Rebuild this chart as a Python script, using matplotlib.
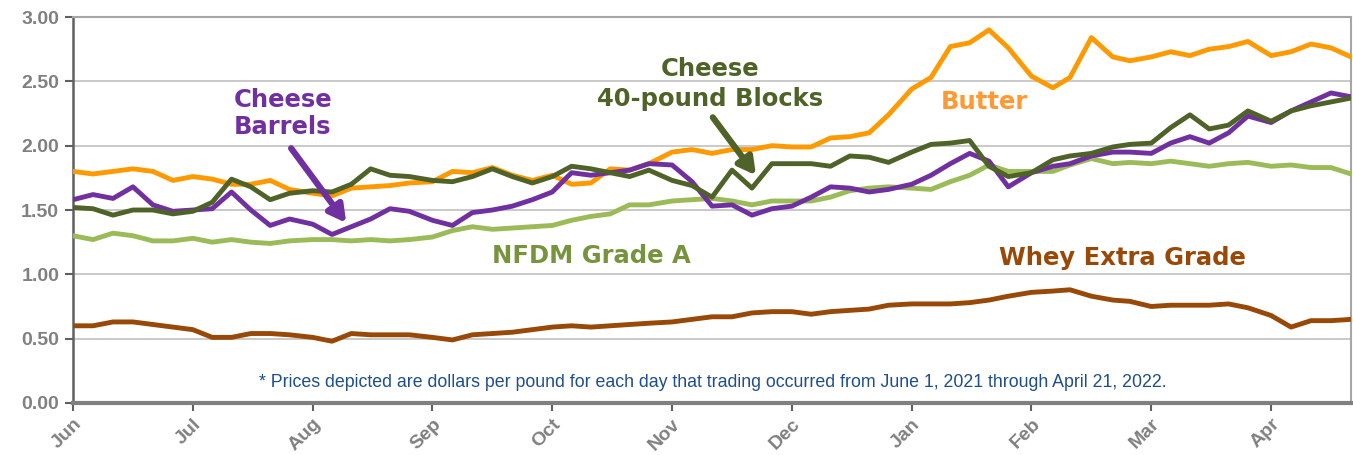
import calendar
import matplotlib
matplotlib.use("Agg")
import matplotlib.pyplot as plt
from matplotlib.ticker import MultipleLocator, FormatStrFormatter

# sampling dates (roughly every 5 days, June 1 2021 - April 21 2022)
dates = [
    "2021-06-01", "2021-06-06", "2021-06-11", "2021-06-16", "2021-06-21", "2021-06-26",
    "2021-07-01", "2021-07-06", "2021-07-11", "2021-07-16", "2021-07-21", "2021-07-26",
    "2021-08-01", "2021-08-06", "2021-08-11", "2021-08-16", "2021-08-21", "2021-08-26",
    "2021-09-01", "2021-09-06", "2021-09-11", "2021-09-16", "2021-09-21", "2021-09-26",
    "2021-10-01", "2021-10-06", "2021-10-11", "2021-10-16", "2021-10-21", "2021-10-26",
    "2021-11-01", "2021-11-06", "2021-11-11", "2021-11-16", "2021-11-21", "2021-11-26",
    "2021-12-01", "2021-12-06", "2021-12-11", "2021-12-16", "2021-12-21", "2021-12-26",
    "2022-01-01", "2022-01-06", "2022-01-11", "2022-01-16", "2022-01-21", "2022-01-26",
    "2022-02-01", "2022-02-06", "2022-02-10", "2022-02-15", "2022-02-20", "2022-02-24",
    "2022-03-01", "2022-03-06", "2022-03-11", "2022-03-16", "2022-03-21", "2022-03-26",
    "2022-04-01", "2022-04-06", "2022-04-11", "2022-04-16", "2022-04-21",
]

butter = [
    1.80, 1.78, 1.80, 1.82, 1.80, 1.73,
    1.76, 1.74, 1.70, 1.70, 1.73, 1.66,
    1.63, 1.61, 1.67, 1.68, 1.69, 1.71,
    1.72, 1.80, 1.79, 1.83, 1.77, 1.73,
    1.77, 1.70, 1.71, 1.82, 1.81, 1.86,
    1.95, 1.97, 1.94, 1.97, 1.97, 2.00,
    1.99, 1.99, 2.06, 2.07, 2.10, 2.24,
    2.44, 2.53, 2.77, 2.80, 2.90, 2.76,
    2.54, 2.45, 2.53, 2.84, 2.69, 2.66,
    2.69, 2.73, 2.70, 2.75, 2.77, 2.81,
    2.70, 2.73, 2.79, 2.76, 2.69,
]

blocks = [
    1.52, 1.51, 1.46, 1.50, 1.50, 1.47,
    1.49, 1.56, 1.74, 1.68, 1.58, 1.63,
    1.65, 1.64, 1.70, 1.82, 1.77, 1.76,
    1.73, 1.72, 1.76, 1.82, 1.76, 1.71,
    1.76, 1.84, 1.82, 1.79, 1.76, 1.81,
    1.73, 1.69, 1.60, 1.81, 1.67, 1.86,
    1.86, 1.86, 1.84, 1.92, 1.91, 1.87,
    1.95, 2.01, 2.02, 2.04, 1.84, 1.76,
    1.79, 1.89, 1.92, 1.94, 1.99, 2.01,
    2.02, 2.14, 2.24, 2.13, 2.16, 2.27,
    2.19, 2.27, 2.31, 2.34, 2.37,
]

barrels = [
    1.58, 1.62, 1.59, 1.68, 1.54, 1.49,
    1.50, 1.51, 1.64, 1.50, 1.38, 1.43,
    1.39, 1.31, 1.37, 1.43, 1.51, 1.49,
    1.42, 1.38, 1.48, 1.50, 1.53, 1.58,
    1.64, 1.79, 1.77, 1.79, 1.81, 1.86,
    1.85, 1.72, 1.53, 1.54, 1.46, 1.51,
    1.53, 1.60, 1.68, 1.67, 1.64, 1.66,
    1.70, 1.77, 1.86, 1.94, 1.88, 1.68,
    1.79, 1.84, 1.86, 1.92, 1.95, 1.95,
    1.94, 2.02, 2.07, 2.02, 2.10, 2.23,
    2.18, 2.27, 2.34, 2.41, 2.38,
]

nfdm = [
    1.30, 1.27, 1.32, 1.30, 1.26, 1.26,
    1.28, 1.25, 1.27, 1.25, 1.24, 1.26,
    1.27, 1.27, 1.26, 1.27, 1.26, 1.27,
    1.29, 1.34, 1.37, 1.35, 1.36, 1.37,
    1.38, 1.42, 1.45, 1.47, 1.54, 1.54,
    1.57, 1.58, 1.59, 1.57, 1.54, 1.57,
    1.57, 1.57, 1.60, 1.65, 1.67, 1.68,
    1.67, 1.66, 1.72, 1.77, 1.85, 1.80,
    1.80, 1.80, 1.85, 1.90, 1.86, 1.87,
    1.86, 1.88, 1.86, 1.84, 1.86, 1.87,
    1.84, 1.85, 1.83, 1.83, 1.78,
]

whey = [
    0.60, 0.60, 0.63, 0.63, 0.61, 0.59,
    0.57, 0.51, 0.51, 0.54, 0.54, 0.53,
    0.51, 0.48, 0.54, 0.53, 0.53, 0.53,
    0.51, 0.49, 0.53, 0.54, 0.55, 0.57,
    0.59, 0.60, 0.59, 0.60, 0.61, 0.62,
    0.63, 0.65, 0.67, 0.67, 0.70, 0.71,
    0.71, 0.69, 0.71, 0.72, 0.73, 0.76,
    0.77, 0.77, 0.77, 0.78, 0.80, 0.83,
    0.86, 0.87, 0.88, 0.83, 0.80, 0.79,
    0.75, 0.76, 0.76, 0.76, 0.77, 0.74,
    0.68, 0.59, 0.64, 0.64, 0.65,
]

month_labels = ["Jun", "Jul", "Aug", "Sep", "Oct", "Nov", "Dec", "Jan", "Feb", "Mar", "Apr"]


def month_pos(d):
    # months since June 1 2021, every month drawn with the same width
    y, m, day = map(int, d.split("-"))
    dim = calendar.monthrange(y, m)[1]
    return (y - 2021) * 12 + (m - 6) + (day - 1) / dim


x = [month_pos(d) for d in dates]

fig = plt.figure(figsize=(13.53, 4.55), dpi=100)
ax = fig.add_axes([0.054, 0.1143, 0.9445, 0.8483])

ax.plot(x, nfdm, color="#9BBB59", lw=3.5, solid_joinstyle="round", zorder=3)
ax.plot(x, whey, color="#984807", lw=3.5, solid_joinstyle="round", zorder=3)
ax.plot(x, butter, color="#FF9900", lw=3.5, solid_joinstyle="round", zorder=4)
ax.plot(x, barrels, color="#7030A0", lw=3.5, solid_joinstyle="round", zorder=4)
ax.plot(x, blocks, color="#4F6228", lw=3.5, solid_joinstyle="round", zorder=5)

ax.set_xlim(0, x[-1])
ax.set_ylim(0, 3.0)
ax.yaxis.set_major_locator(MultipleLocator(0.5))
ax.yaxis.set_major_formatter(FormatStrFormatter("%.2f"))
ax.set_xticks(range(len(month_labels)))
ax.set_xticklabels(month_labels, rotation=45, ha="right", rotation_mode="anchor")

ax.grid(axis="y", color="#C0C0C0", lw=1.2, zorder=0)
ax.set_axisbelow(True)

tick_font = dict(family=["Liberation Sans Narrow", "Liberation Sans", "DejaVu Sans"],
                 weight="bold", size=14, color="#808080")
for lab in ax.get_yticklabels() + ax.get_xticklabels():
    lab.set(**tick_font)
ax.tick_params(axis="both", direction="out", length=6, width=1.5, color="#606060", pad=4)
ax.tick_params(axis="x", pad=3)

for side in ["top", "right"]:
    ax.spines[side].set_color("#A6A6A6")
    ax.spines[side].set_linewidth(1.5)
ax.spines["left"].set_color("#606060")
ax.spines["left"].set_linewidth(1.8)
ax.spines["bottom"].set_color("#808080")
ax.spines["bottom"].set_linewidth(3)

lab_font = dict(family=["DejaVu Sans"], weight="bold", size=17.5)
arrow_style = "-|>,head_width=0.55,head_length=1.0"

ax.text(1.34, 2.25, "Cheese\nBarrels", color="#7030A0", ha="left", va="center",
        linespacing=1.15, **lab_font)
ax.annotate("", xy=(2.28, 1.40), xytext=(1.82, 1.98),
            arrowprops=dict(arrowstyle=arrow_style, lw=4.5, color="#7030A0",
                            shrinkA=0, shrinkB=0), zorder=6)

ax.text(5.32, 2.48, "Cheese\n40-pound Blocks", color="#4F6228", ha="center", va="center",
        linespacing=1.3, **lab_font)
ax.annotate("", xy=(5.70, 1.77), xytext=(5.34, 2.22),
            arrowprops=dict(arrowstyle=arrow_style, lw=4.5, color="#4F6228",
                            shrinkA=0, shrinkB=0), zorder=6)

ax.text(7.61, 2.34, "Butter", color="#FF9933", ha="center", va="center", **lab_font)
ax.text(4.33, 1.14, "NFDM Grade A", color="#77933C", ha="center", va="center", **lab_font)
ax.text(8.76, 1.125, "Whey Extra Grade", color="#984807", ha="center", va="center", **lab_font)

ax.text(5.34, 0.16,
        "* Prices depicted are dollars per pound for each day that trading occurred "
        "from June 1, 2021 through April 21, 2022.",
        color="#1F4E8C", ha="center", va="center", size=12.8,
        family=["Liberation Sans Narrow", "Liberation Sans", "DejaVu Sans"])

fig.savefig("out.png", dpi=100)
